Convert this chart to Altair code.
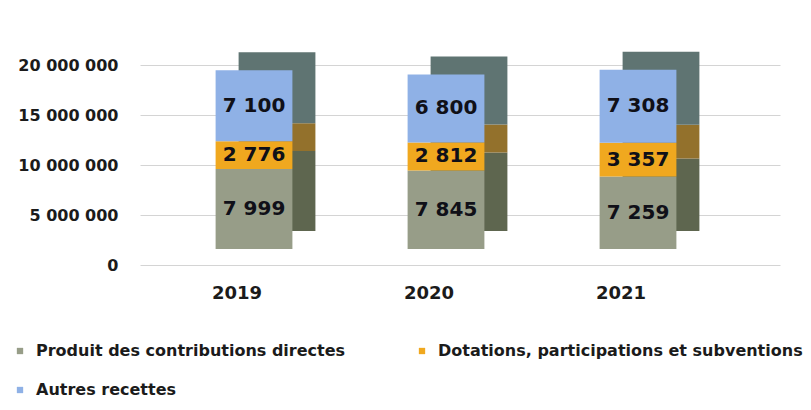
import altair as alt
import pandas as pd

years = ["2019", "2020", "2021"]
series = [
    "Produit des contributions directes",
    "Dotations, participations et subventions",
    "Autres recettes",
]
# values in thousands of euros (as labelled on the bars)
produit = [7999, 7845, 7259]
dotations = [2776, 2812, 3357]
autres = [7100, 6800, 7308]

front_colors = ["#979D88", "#F0A81F", "#8FB1E6"]
side_colors = ["#5E664F", "#93712C", "#5F7472"]
y_ticks = [0, 5000000, 10000000, 15000000, 20000000]

rows = []
for i, y in enumerate(years):
    for j, (s, vals) in enumerate(zip(series, [produit, dotations, autres])):
        rows.append({"year": y, "series": s, "order": j, "k": vals[i],
                     "dark": side_colors[j]})
df = pd.DataFrame(rows)

FONT = "DejaVu Sans"
TXT = "#1b1b1b"

base = (
    alt.Chart(df)
    .transform_calculate(value="datum.k * 1000")
    .transform_stack(stack="value", groupby=["year"], as_=["v0", "v1"],
                     sort=[alt.SortField("order", order="ascending")])
    .transform_calculate(mid="(datum.v0 + datum.v1) / 2",
                         label="replace(format(datum.k, ','), ',', ' ')")
)

xenc = alt.X(
    "year:N",
    title=None,
    sort=years,
    scale=alt.Scale(paddingInner=0.6, paddingOuter=0.4667, align=0.4219),
    axis=alt.Axis(labelAngle=0, domain=False, ticks=False, grid=False,
                  labelPadding=35, labelOffset=-17, labelFontSize=18,
                  labelFont=FONT, labelFontWeight="bold", labelColor=TXT),
)
yscale = alt.Scale(domain=[0, 20000000], nice=False, zero=True)

back = base.mark_bar(xOffset=23, yOffset=-18, y2Offset=-18).encode(
    x=xenc,
    y=alt.Y("v0:Q", scale=yscale,
            axis=alt.Axis(values=y_ticks, title=None, domain=False, ticks=False,
                          tickSize=0, labelPadding=22, tickOffset=16,
                          gridColor="#d4d4d4", gridWidth=1,
                          labelFontSize=16, labelFont=FONT, labelFontWeight="bold",
                          labelColor=TXT,
                          labelExpr="replace(format(datum.value, ','), regexp(',', 'g'), ' ')")),
    y2="v1:Q",
    fill=alt.Fill("dark:N", scale=None, legend=None),
)

front = base.mark_bar().encode(
    x=alt.X("year:N", sort=years),
    y=alt.Y("v0:Q", scale=yscale),
    y2="v1:Q",
    color=alt.Color(
        "series:N",
        sort=series,
        scale=alt.Scale(domain=series, range=front_colors),
        legend=alt.Legend(
            title=None, orient="none", legendX=-128, legendY=294,
            direction="horizontal", columns=2, columnPadding=68, rowPadding=23,
            symbolType="square", symbolSize=40, symbolStrokeWidth=0,
            labelFont=FONT, labelFontSize=16, labelFontWeight="bold",
            labelColor=TXT, labelOffset=8, labelLimit=500,
        ),
    ),
)

labels = base.mark_text(font=FONT, fontSize=20, fontWeight="bold",
                        color="#101018").encode(
    x=alt.X("year:N", sort=years),
    y=alt.Y("mid:Q", scale=yscale),
    text="label:N",
)

chart = (
    alt.layer(back, front, labels)
    .properties(
        width=640, height=200,
        autosize=alt.AutoSizeParams(type="none"),
        padding={"left": 140, "top": 49, "right": 31, "bottom": 161},
        background="white",
    )
    .configure_view(stroke=None)
)

chart.save("out.html", embed_options={"renderer": "svg", "actions": False})
